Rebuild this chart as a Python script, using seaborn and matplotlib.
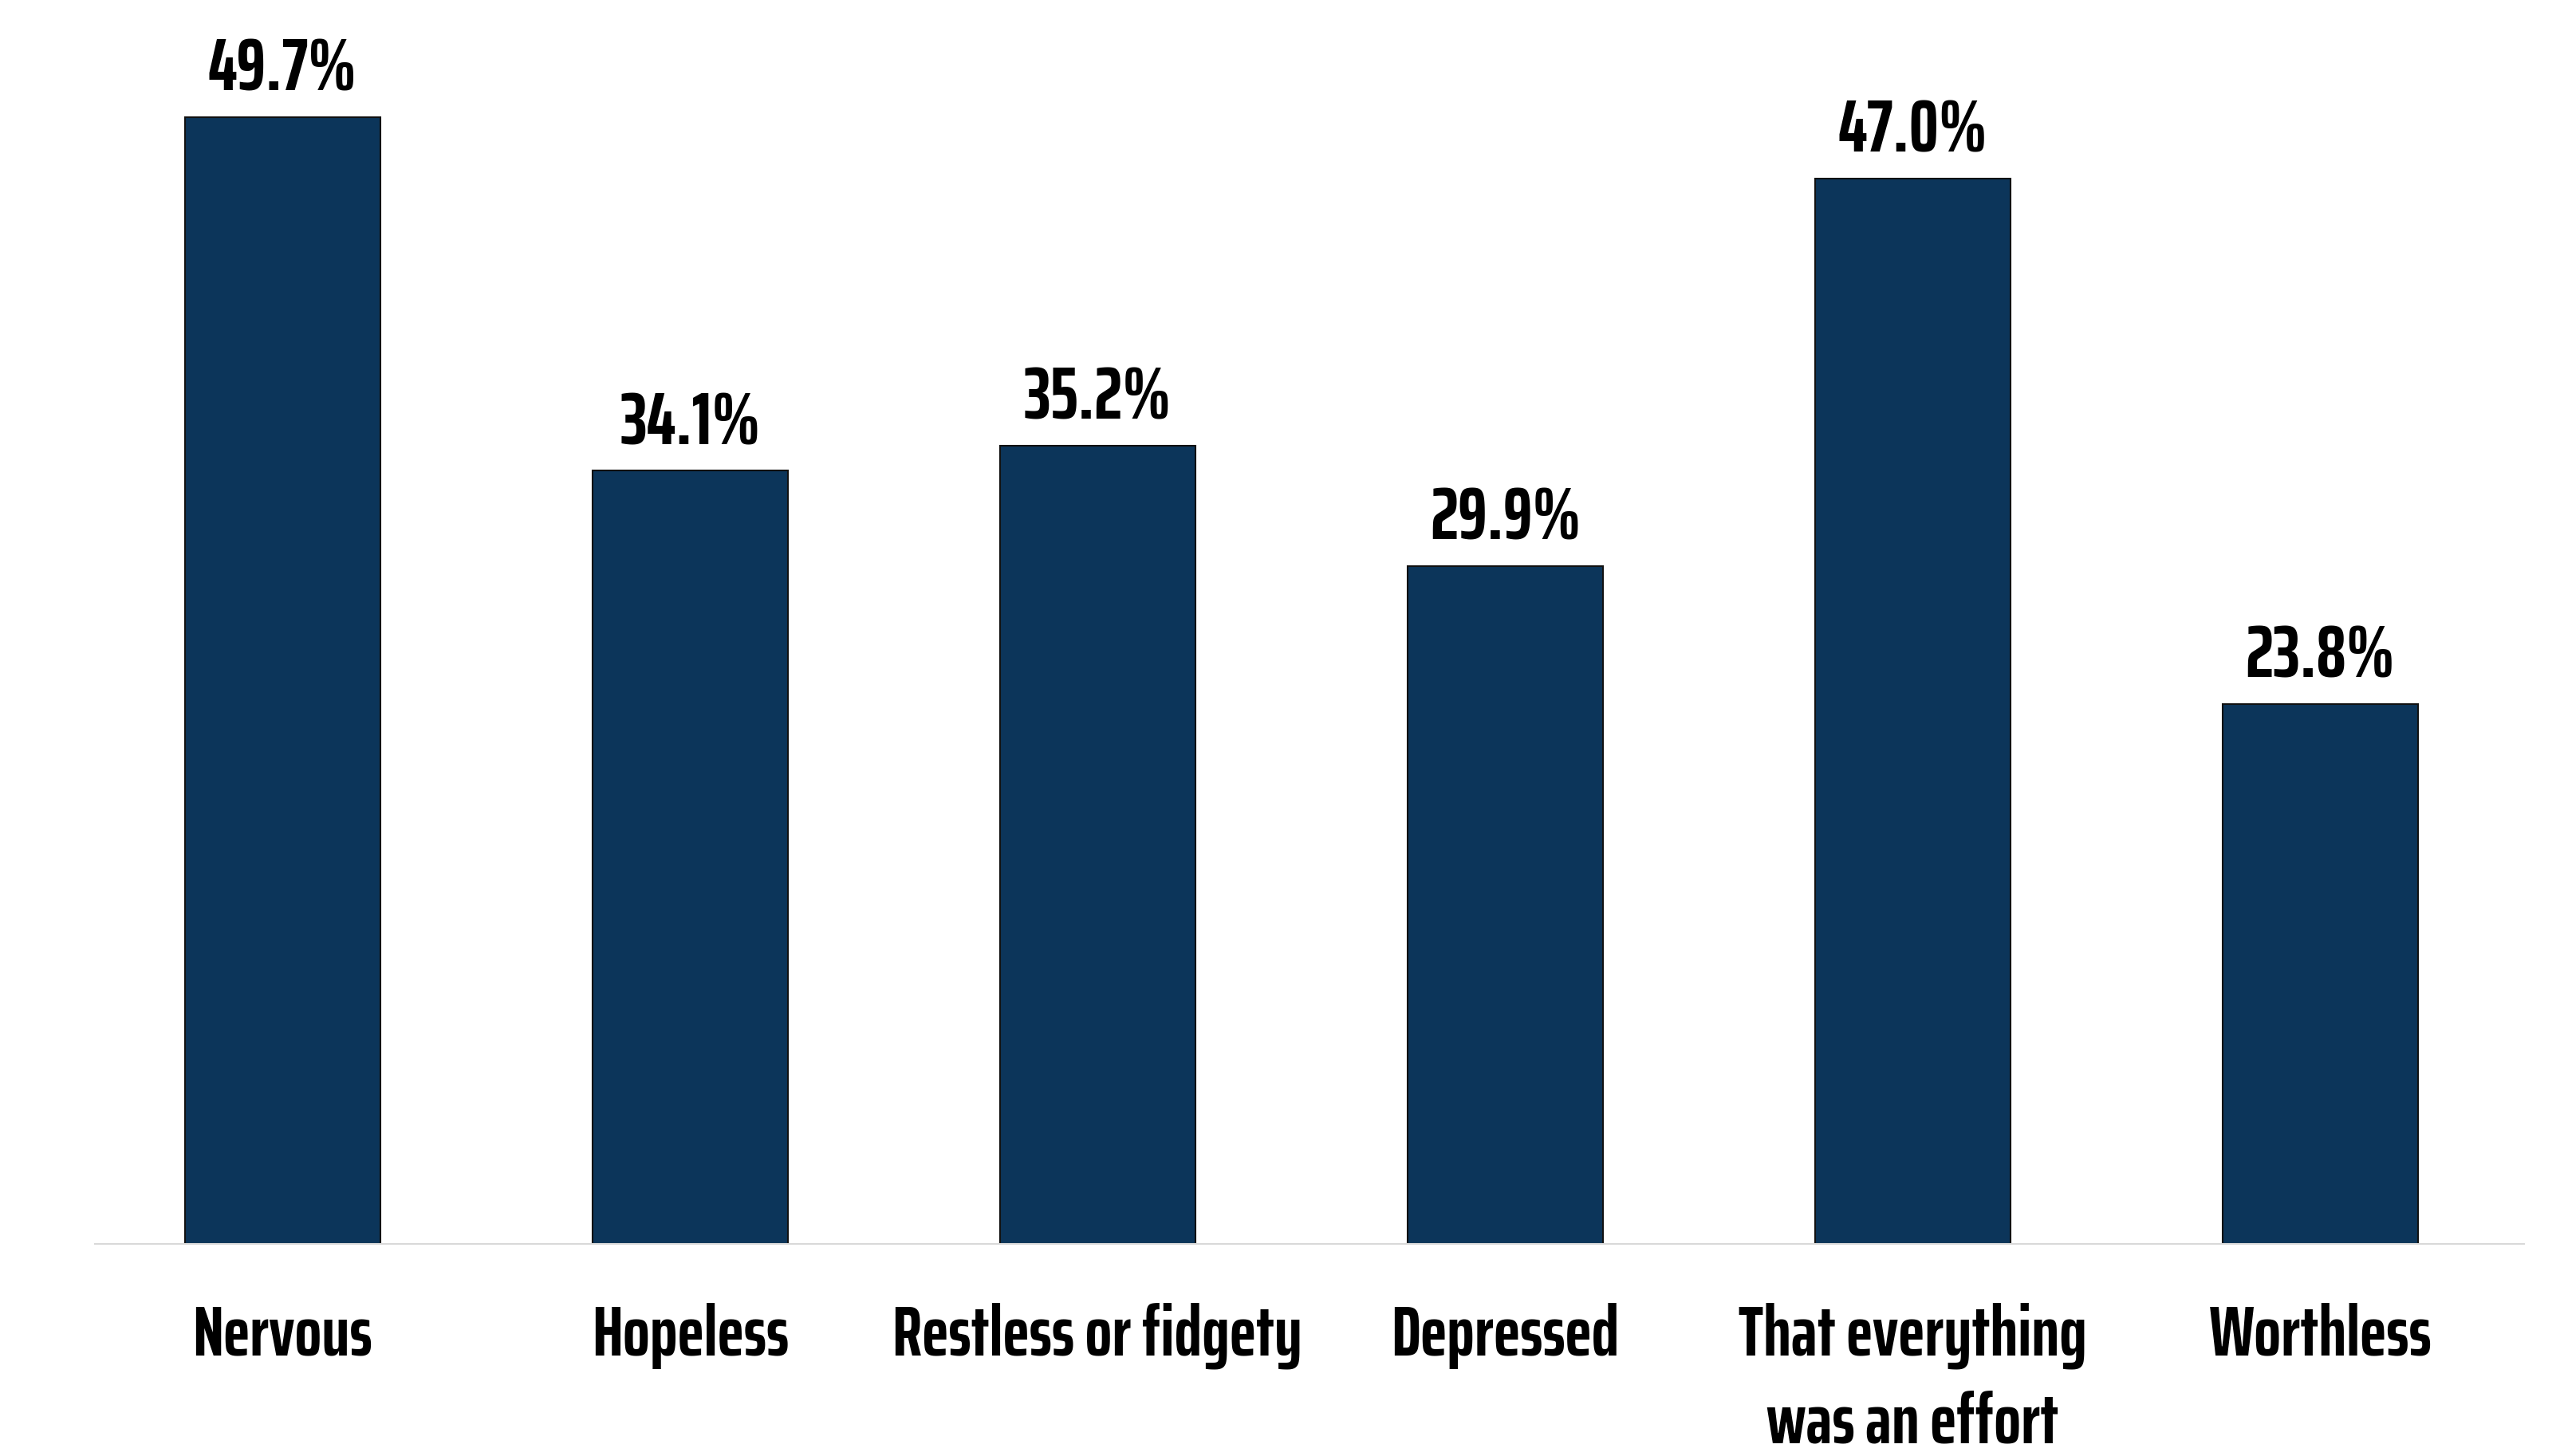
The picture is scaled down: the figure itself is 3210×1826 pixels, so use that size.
import matplotlib
matplotlib.use("Agg")
import matplotlib.pyplot as plt
import seaborn as sns
import pandas as pd

categories = ["Nervous", "Hopeless", "Restless or fidgety", "Depressed",
              "That everything\nwas an effort", "Worthless"]
values = [49.7, 34.1, 35.2, 29.9, 47.0, 23.8]
value_labels = ["49.7%", "34.1%", "35.2%", "29.9%", "47.0%", "23.8%"]

sns.set_theme(style="white")
plt.rcParams['font.family'] = ['Saira ExtraCondensed', 'Barlow Condensed', 'DejaVu Sans']

df = pd.DataFrame({"cat": categories, "val": values})

fig = plt.figure(figsize=(32.1, 18.26), dpi=100)
ax = fig.add_axes([0.037, 0.1457, 0.949, 0.8543])

sns.barplot(data=df, x="cat", y="val", color="#0c355a", saturation=1,
            width=0.48, edgecolor="#111111", linewidth=1.5, ax=ax)

ax.bar_label(ax.containers[0], labels=value_labels, padding=11,
             fontsize=67, fontweight="bold", color="black")

ax.set_ylim(0, 54.86)
ax.set_xlim(-0.461, 5.50)
ax.set_xlabel("")
ax.set_ylabel("")
ax.set_yticks([])
for s in ["top", "right", "left"]:
    ax.spines[s].set_visible(False)
ax.spines["bottom"].set_color("#d9d9d9")
ax.spines["bottom"].set_linewidth(1.5)
ax.tick_params(axis="x", length=0, pad=53)
for lbl in ax.get_xticklabels():
    lbl.set_fontsize(64)
    lbl.set_fontweight("bold")
    lbl.set_color("black")
    lbl.set_linespacing(1.4)

fig.savefig("out.png", dpi=100, facecolor="white")
